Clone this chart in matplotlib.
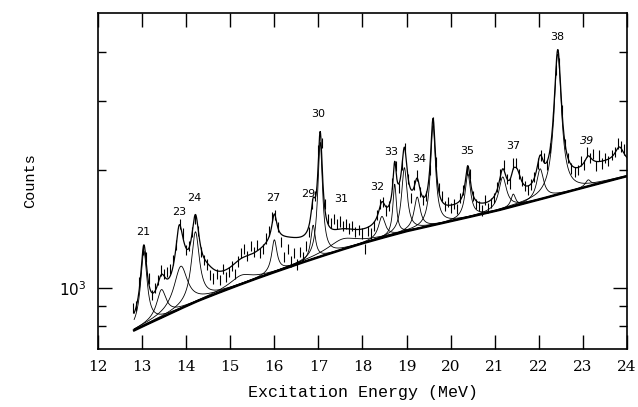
import numpy as np
import matplotlib
matplotlib.use("Agg")
import matplotlib.pyplot as plt
from matplotlib.ticker import FixedLocator, NullFormatter, FixedFormatter

# ---------------- data ----------------
bg_E = [12.82, 13.5, 14.25, 15.0, 16.0, 17.0, 18.0, 19.0, 20.0, 21.0, 22.0, 23.0, 24.0]
bg_counts = [781, 848, 927, 1000, 1099, 1200, 1302, 1398, 1482, 1572, 1682, 1804, 1931]

peak_E = [13.04, 13.44, 13.88, 13.84, 14.21, 14.45, 15.25, 16.10, 16.00, 16.88, 17.04, 17.55,
          18.90, 18.44, 18.73, 18.95, 19.24, 19.60, 20.10, 20.39, 21.18, 21.42, 21.50,
          22.03, 22.43, 23.12, 23.12, 23.50, 23.83]
peak_amp = [440, 150, 250, 240, 470, 80, 55, 190, 230, 260, 1150, 80,
            170, 180, 470, 636, 290, 1150, 60, 440, 330, 120, 250,
            330, 2220, 80, 70, 190, 200]
peak_fwhm = [0.16, 0.25, 0.35, 0.16, 0.20, 0.50, 0.60, 1.50, 0.14, 0.12, 0.11, 0.80,
             0.70, 0.18, 0.09, 0.14, 0.16, 0.12, 0.90, 0.14, 0.20, 0.12, 0.22,
             0.18, 0.17, 0.30, 0.15, 1.60, 0.25]
peak_shown = [1, 1, 1, 0, 1, 0, 1, 0, 1, 1, 1, 1,
              0, 1, 1, 1, 1, 1, 0, 1, 1, 1, 0,
              1, 1, 0, 1, 0, 0]

data_E = [12.80, 12.87, 12.94, 13.01, 13.08, 13.15, 13.22, 13.29, 13.36, 13.43, 13.50, 13.57,
          13.64, 13.71, 13.78, 13.85, 13.92, 13.99, 14.06, 14.13, 14.20, 14.27, 14.34, 14.41,
          14.48, 14.55, 14.62, 14.69, 14.76, 14.83, 14.90, 14.97, 15.04, 15.11, 15.18, 15.25,
          15.32, 15.39, 15.46, 15.53, 15.60, 15.67, 15.74, 15.81, 15.88, 15.95, 16.02, 16.09,
          16.16, 16.23, 16.30, 16.37, 16.44, 16.51, 16.58, 16.65, 16.72, 16.79, 16.86, 16.93,
          17.00, 17.07, 17.14, 17.21, 17.28, 17.35, 17.42, 17.49, 17.56, 17.63, 17.70, 17.77,
          17.84, 17.91, 17.98, 18.05, 18.12, 18.19, 18.26, 18.33, 18.40, 18.47, 18.54, 18.61,
          18.68, 18.75, 18.82, 18.89, 18.96, 19.03, 19.10, 19.17, 19.24, 19.31, 19.38, 19.45,
          19.52, 19.59, 19.66, 19.73, 19.80, 19.87, 19.94, 20.01, 20.08, 20.15, 20.22, 20.29,
          20.36, 20.43, 20.50, 20.57, 20.64, 20.71, 20.78, 20.85, 20.92, 20.99, 21.06, 21.13,
          21.20, 21.27, 21.34, 21.41, 21.48, 21.55, 21.62, 21.69, 21.76, 21.83, 21.90, 21.97,
          22.04, 22.11, 22.18, 22.25, 22.32, 22.39, 22.46, 22.53, 22.60, 22.67, 22.74, 22.81,
          22.88, 22.95, 23.02, 23.09, 23.16, 23.23, 23.30, 23.37, 23.44, 23.51, 23.58, 23.65,
          23.72, 23.79, 23.86, 23.93, 24.00]
data_counts = [890, 900, 1040, 1250, 1200, 1060, 960, 1000, 1050, 1110, 1090, 1100,
               1120, 1180, 1290, 1460, 1380, 1250, 1280, 1390, 1500, 1400, 1240, 1180,
               1150, 1080, 1060, 1090, 1050, 1120, 1070, 1100, 1140, 1090, 1170, 1230,
               1260, 1210, 1280, 1240, 1290, 1230, 1260, 1340, 1400, 1520, 1540, 1430,
               1310, 1200, 1260, 1170, 1230, 1150, 1240, 1200, 1280, 1390, 1640, 1720,
               2250, 2350, 1640, 1500, 1470, 1500, 1460, 1480, 1440, 1460, 1420, 1440,
               1390, 1410, 1380, 1260, 1400, 1380, 1440, 1540, 1640, 1660, 1580, 1620,
               1850, 2050, 1800, 2060, 2280, 1900, 1700, 1830, 1940, 1760, 1680, 1720,
               2000, 2650, 2100, 1800, 1720, 1620, 1660, 1600, 1640, 1590, 1700, 1780,
               2000, 1960, 1720, 1640, 1620, 1580, 1680, 1600, 1650, 1700, 1810, 1950,
               2060, 1900, 1850, 2080, 2090, 1960, 1880, 1820, 1780, 1840, 1920, 2080,
               2180, 2150, 2060, 2280, 2750, 3600, 3750, 2850, 2330, 2150, 2020, 1980,
               2000, 2110, 2060, 2230, 2150, 2200, 2050, 2180, 2080, 2150, 2110, 2190,
               2230, 2340, 2300, 2260, 2340]
REL_ERR = 0.03

label_text = ["21", "23", "24", "27", "29", "30", "31", "32", "33", "34", "35", "37", "38", "39"]
label_E = [13.02, 13.85, 14.19, 15.97, 16.76, 17.00, 17.52, 18.33, 18.65, 19.28, 20.37, 21.43, 22.41, 23.10]
label_counts = [1392, 1565, 1694, 1694, 1734, 2781, 1684, 1807, 2219, 2134, 2240, 2302, 4370, 2371]

x_ticks = [12, 13, 14, 15, 16, 17, 18, 19, 20, 21, 22, 23, 24]

# ---------------- fit model ----------------
E = np.linspace(12.82, 24.0, 2500)
bg = np.interp(E, bg_E, bg_counts)

def lor(x, c, a, w):
    return a / (1.0 + ((x - c) / (w / 2.0)) ** 2)

total = bg.copy()
for c, a, w in zip(peak_E, peak_amp, peak_fwhm):
    total += lor(E, c, a, w)

# ---------------- figure ----------------
fig = plt.figure(figsize=(6.38, 4.07), dpi=100)
ax = fig.add_axes([98/638, 58/407, 529/638, 336.3/407])
ax.set_yscale("log")
ax.set_xlim(12, 24)
ax.set_ylim(700, 5040)

for c, a, w, s in zip(peak_E, peak_amp, peak_fwhm, peak_shown):
    if s:
        ax.plot(E, bg + lor(E, c, a, w), color="black", lw=0.6)
ax.plot(E, total, color="black", lw=0.9)
ax.plot(E, bg, color="black", lw=1.8)

dc = np.array(data_counts, dtype=float)
ax.errorbar(data_E, dc, yerr=REL_ERR * dc, fmt="none", ecolor="black",
            elinewidth=0.8, capsize=0)

for t, x, y in zip(label_text, label_E, label_counts):
    ax.text(x, y, t, ha="center", va="center", fontsize=8, family="DejaVu Sans",
            style="italic" if t == "39" else "normal")

ax.xaxis.set_major_locator(FixedLocator(x_ticks))
ax.set_xticklabels([str(v) for v in x_ticks])
ax.yaxis.set_major_locator(FixedLocator([1000]))
ax.yaxis.set_major_formatter(FixedFormatter([r"$10^3$"]))
ax.yaxis.set_minor_locator(FixedLocator([800, 900, 2000, 3000, 4000]))
ax.yaxis.set_minor_formatter(NullFormatter())
ax.tick_params(axis="both", which="major", direction="in", top=True, right=True,
               length=10, width=1.0, labelsize=11, pad=8)
ax.tick_params(axis="y", which="minor", direction="in", right=True, length=6, width=1.0)
for lab in ax.get_xticklabels() + ax.get_yticklabels():
    lab.set_family("DejaVu Serif")
for sp in ax.spines.values():
    sp.set_linewidth(1.2)

ax.set_xlabel("Excitation Energy (MeV)", family="Liberation Mono", fontsize=12, labelpad=8)
ax.set_ylabel("Counts", family="Liberation Mono", fontsize=11, labelpad=16)

fig.savefig("out.png", dpi=100)
